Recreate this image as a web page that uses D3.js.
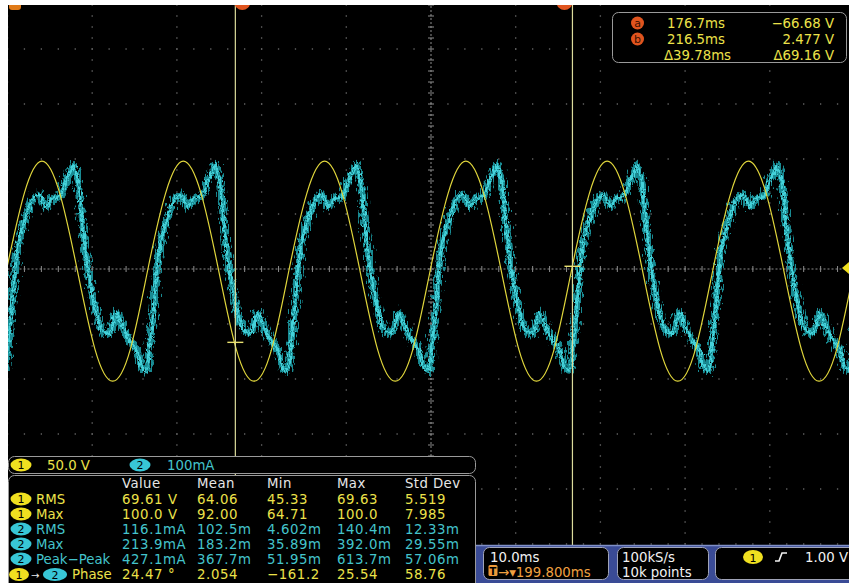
<!DOCTYPE html>
<html><head><meta charset="utf-8">
<script src="https://cdn.jsdelivr.net/npm/d3@7"></script>
<style>
html,body{margin:0;padding:0;background:#fff;overflow:hidden;}
svg{display:block;}
text{font-family:"DejaVu Sans",Verdana,sans-serif;}
</style></head><body>
<svg id="c" width="849" height="583"></svg>
<script>
// ---------------- DATA ----------------
// time axis (ms): 10 ms/div, screen centre at 199.8 ms
const timeDivisions = [149.8,159.8,169.8,179.8,189.8,199.8,209.8,219.8,229.8,239.8,249.8];
// Ch1 voltage grid (50 V/div)
const voltDivisions = [-250,-200,-150,-100,-50,0,50,100,150,200,250];

// Ch1 (yellow) samples: time (ms) / volts
const ch1Times = [147.62,149.70,151.79,153.87,155.96,158.04,160.13,162.21,164.30,166.38,168.47,170.55,172.64,174.72,176.81,178.89,180.98,183.06,185.15,187.23,189.32,191.40,193.49,195.57,197.66,199.74,201.83,203.91,206.00,208.08,210.17,212.25,214.34,216.42,218.51,220.59,222.68,224.76,226.85,228.93,231.02,233.10,235.19,237.27,239.36,241.44,243.53,245.61,247.70,249.78,251.87];
const ch1Volts = [-73,0,69,98,69,-1,-73,-102,-73,0,69,98,69,-1,-73,-102,-73,0,69,98,69,-1,-73,-102,-73,0,69,98,69,-1,-73,-102,-73,0,69,98,69,-1,-73,-102,-73,0,69,98,69,-1,-73,-102,-73,0,69];

// Ch2 (cyan) current: shape of one cycle (offset ms from rising zero / mA)
const ch2CycleOffsets = [0,0.47,1.30,2.01,2.83,3.66,4.37,5.19,6.02,6.61,6.85,7.44,7.91,8.38,8.56,9.56,10.27,11.10,11.92,12.63,13.46,14.29,14.88,15.47,15.82,16.18,16.65];
const ch2CycleMilliamps = [0,53,95,125,135,113,129,131,162,180,189,156,84,22,0,-80,-111,-116,-80,-105,-129,-147,-178,-184,-142,-93,-7];
const ch2CycleLength = 16.7;
// rising zero crossings of Ch2 (ms)
const ch2CycleStarts = [134.0,150.69,167.45,184.10,200.74,217.39,233.80,250.48];

// cursors
const cursorTimes = [176.7, 216.5];
const cursorVolts = [-66.68, 2.477];
const cursorNames = ["a","b"];
const cursorLeftText = ["176.7ms","216.5ms","\u039439.78ms"];
const cursorRightText = ["\u221266.68 V","2.477 V","\u039469.16 V"];
const triggerLevel = 1.0;

// measurement table
const measHeaders = ["Value","Mean","Min","Max","Std Dev"];
const rowSources = ["1","1","2","2","2","1>2"];
const rowLabels = ["RMS","Max","RMS","Max","Peak\u2212Peak","Phase"];
const valueCol = ["69.61 V","100.0 V","116.1mA","213.9mA","427.1mA","24.47 \u00b0"];
const meanCol = ["64.06","92.00","102.5m","183.2m","367.7m","2.054"];
const minCol = ["45.33","64.71","4.602m","35.89m","51.95m","\u2212161.2"];
const maxCol = ["69.63","100.0","140.4m","392.0m","613.7m","25.54"];
const stdCol = ["5.519","7.985","12.33m","29.55m","57.06m","58.76"];
const scaleLabels = ["50.0 V","100mA"];

// ---------------- DRAW ----------------
const YTXT = "#ece24a", CTXT = "#44c4cc";
const svg = d3.select("#c");
const defs = svg.append("defs");
defs.append("clipPath").attr("id","plotClip").append("rect")
  .attr("x",8).attr("y",5).attr("width",841).attr("height",541);

function noiseFilter(id, freq, scale, seed){
  const f = defs.append("filter").attr("id",id)
    .attr("x","-3%").attr("y","-20%").attr("width","106%").attr("height","140%");
  f.append("feTurbulence").attr("type","fractalNoise").attr("baseFrequency",freq)
    .attr("numOctaves",2).attr("seed",seed).attr("result","n");
  f.append("feDisplacementMap").attr("in","SourceGraphic").attr("in2","n")
    .attr("scale",scale).attr("xChannelSelector","R").attr("yChannelSelector","G");
}
noiseFilter("noiseA","0.6 0.15",15,3);
noiseFilter("noiseB","0.7 0.25",8,11);

svg.append("rect").attr("width",849).attr("height",583).attr("fill","#fff");
svg.append("rect").attr("x",8).attr("y",5).attr("width",841).attr("height",578).attr("fill","#000");

const x = d3.scaleLinear().domain([timeDivisions[0], timeDivisions[10]]).range([7.5, 854.5]);
const y1 = d3.scaleLinear().domain([-250,250]).range([544,-6]);
const y2 = d3.scaleLinear().domain([-500,500]).range([544,-6]);

const plot = svg.append("g").attr("clip-path","url(#plotClip)");
const grid = plot.append("g");
const minorX = d3.range(0,51).map(i => timeDivisions[0] + i*2);
const minorV = d3.range(0,51).map(i => -250 + i*10);

// dotted graticule
timeDivisions.forEach((t,i) => {
  if (i===5) return;
  grid.append("line").attr("x1",x(t)).attr("x2",x(t)).attr("y1",y1(250)).attr("y2",y1(-250))
    .attr("stroke","#626262").attr("stroke-width",1.3).attr("stroke-dasharray","1.3 9.7").attr("stroke-dashoffset",0.65);
});
voltDivisions.forEach((v,i) => {
  if (i===5) return;
  grid.append("line").attr("y1",y1(v)).attr("y2",y1(v)).attr("x1",x(timeDivisions[0])).attr("x2",x(timeDivisions[10]))
    .attr("stroke","#626262").attr("stroke-width",1.3).attr("stroke-dasharray","1.3 15.64").attr("stroke-dashoffset",0.65);
});
// centre lines with ticks
grid.append("line").attr("x1",x(timeDivisions[0])).attr("x2",x(timeDivisions[10])).attr("y1",y1(0)).attr("y2",y1(0))
  .attr("stroke","#8c8c8c").attr("stroke-width",1).attr("stroke-dasharray","2 2");
grid.append("line").attr("y1",y1(250)).attr("y2",y1(-250)).attr("x1",x(timeDivisions[5])).attr("x2",x(timeDivisions[5]))
  .attr("stroke","#8c8c8c").attr("stroke-width",1).attr("stroke-dasharray","2 2");
grid.selectAll(".tx").data(minorX).enter().append("line")
  .attr("x1",d=>x(d)).attr("x2",d=>x(d)).attr("y1",y1(0)-3).attr("y2",y1(0)+3)
  .attr("stroke","#8c8c8c").attr("stroke-width",1);
grid.selectAll(".ty").data(minorV).enter().append("line")
  .attr("y1",d=>y1(d)).attr("y2",d=>y1(d)).attr("x1",x(timeDivisions[5])-3).attr("x2",x(timeDivisions[5])+3)
  .attr("stroke","#8c8c8c").attr("stroke-width",1);

// Ch2 points from the read cycle shape placed at each read zero crossing
const ch2Points = [];
for (let i=0;i<ch2CycleStarts.length-1;i++){
  const s = ch2CycleStarts[i], k = (ch2CycleStarts[i+1]-s)/ch2CycleLength;
  ch2CycleOffsets.forEach((o,j) => ch2Points.push([s+o*k, ch2CycleMilliamps[j]]));
}
ch2Points.push([ch2CycleStarts[ch2CycleStarts.length-1], 0]);

const line2 = d3.line().x(d=>x(d[0])).y(d=>y2(d[1])).curve(d3.curveCatmullRom.alpha(0.5));
plot.append("path").attr("d",line2(ch2Points)).attr("fill","none")
  .attr("stroke","#1c9aa2").attr("stroke-width",6.5).attr("opacity",0.9).attr("filter","url(#noiseA)");
plot.append("path").attr("d",line2(ch2Points)).attr("fill","none")
  .attr("stroke","#44d2da").attr("stroke-width",2.6).attr("filter","url(#noiseB)");

const ch1Points = ch1Times.map((t,i)=>[t,ch1Volts[i]]);
const line1 = d3.line().x(d=>x(d[0])).y(d=>y1(d[1])).curve(d3.curveNatural);
plot.append("path").attr("d",line1(ch1Points)).attr("fill","none")
  .attr("stroke","#e0d63c").attr("stroke-width",1.2);

// cursors
cursorTimes.forEach((t,i) => {
  plot.append("line").attr("x1",x(t)).attr("x2",x(t)).attr("y1",5).attr("y2",546)
    .attr("stroke","#dcdc9c").attr("stroke-width",1.2);
  plot.append("line").attr("x1",x(t)-8).attr("x2",x(t)+8).attr("y1",y1(cursorVolts[i])).attr("y2",y1(cursorVolts[i]))
    .attr("stroke","#e8e070").attr("stroke-width",1.4);
  const cx = i===0 ? x(t)+7 : x(t)-8;
  plot.append("circle").attr("cx",cx).attr("cy",2).attr("r",8).attr("fill","#e0541e");
});
// trigger position marker and trigger level marker
plot.append("rect").attr("x",9).attr("y",-4).attr("width",12).attr("height",14).attr("rx",3).attr("fill","#e07a18");
const tl = y1(triggerLevel);
plot.append("path").attr("d",`M842,${tl} L849,${tl-6} L856,${tl} L849,${tl+6}Z`).attr("fill","#f0e020");

// ------------ cursor readout box -------------
const cb = svg.append("g");
cb.append("rect").attr("x",612.5).attr("y",12.5).attr("width",234).attr("height",50).attr("rx",6)
  .attr("fill","#000").attr("stroke","#9a9a9a").attr("stroke-width",1);
const cbBase = [28,44,59.5];
cursorNames.forEach((n,i)=>{
  cb.append("circle").attr("cx",637.5).attr("cy",cbBase[i]-5).attr("r",6.5).attr("fill","#e0541e");
  cb.append("text").attr("x",637.5).attr("y",cbBase[i]-1).attr("text-anchor","middle")
    .attr("font-size",11).attr("fill","#3a1000").text(n);
});
cursorLeftText.forEach((s,i)=>{
  cb.append("text").attr("x",i===2?664:667).attr("y",cbBase[i]).attr("font-size",13.3).attr("fill",YTXT).text(s);
});
cursorRightText.forEach((s,i)=>{
  cb.append("text").attr("x",834).attr("y",cbBase[i]).attr("text-anchor","end").attr("font-size",13.3).attr("fill",YTXT).text(s);
});

// ------------ bottom bar -------------
const bb = svg.append("g");
bb.append("rect").attr("x",474).attr("y",545).attr("width",375).attr("height",38).attr("fill","#3a4b96");
bb.append("line").attr("x1",474).attr("x2",849).attr("y1",545.5).attr("y2",545.5).attr("stroke","#8090c8").attr("stroke-width",1.5);
[[483,125],[617,91],[715,140]].forEach(b=>{
  bb.append("rect").attr("x",b[0]+0.5).attr("y",547.5).attr("width",b[1]).attr("height",32).attr("rx",6)
    .attr("fill","#000").attr("stroke","#a0a4b8");
});
bb.append("text").attr("x",490).attr("y",562).attr("font-size",13.3).attr("fill","#f2f2f2").text("10.0ms");
bb.append("rect").attr("x",488.5).attr("y",565).attr("width",9).attr("height",11).attr("rx",1.5).attr("fill","#ee9a3a");
bb.append("text").attr("x",493).attr("y",575).attr("text-anchor","middle").attr("font-size",10).attr("font-weight","bold").attr("fill","#000").text("T");
bb.append("text").attr("x",498).attr("y",577).attr("font-size",13.3).attr("fill","#f0a040").text("\u2192\u25be199.800ms");
bb.append("text").attr("x",622).attr("y",562).attr("font-size",13.3).attr("fill","#f2f2f2").text("100kS/s");
bb.append("text").attr("x",622).attr("y",577).attr("font-size",13.3).attr("fill","#f2f2f2").text("10k points");
bb.append("ellipse").attr("cx",753).attr("cy",557).attr("rx",10).attr("ry",7).attr("fill","#f0e020");
bb.append("text").attr("x",753).attr("y",561.5).attr("text-anchor","middle").attr("font-size",11).attr("fill","#000").text("1");
bb.append("path").attr("d","M775,561 L779,561 L782,553 L787,553").attr("fill","none").attr("stroke","#f2f2f2").attr("stroke-width",1.6);
bb.append("text").attr("x",848).attr("y",562).attr("text-anchor","end").attr("font-size",13.3).attr("fill","#f2f2f2").text("1.00 V");

// ------------ measurement table -------------
const tb = svg.append("g");
tb.append("rect").attr("x",8.5).attr("y",456.5).attr("width",467).attr("height",17).attr("rx",6)
  .attr("fill","#000").attr("stroke","#9a9a9a");
tb.append("rect").attr("x",8.5).attr("y",475.5).attr("width",467).attr("height",120).attr("rx",6)
  .attr("fill","#000").attr("stroke","#9a9a9a");
function badge(cx, cy, n, rx){
  tb.append("ellipse").attr("cx",cx).attr("cy",cy).attr("rx",rx||10.5).attr("ry",6.5)
    .attr("fill", n==="1" ? "#f0e020" : "#38c6d6");
  tb.append("text").attr("x",cx).attr("y",cy+4).attr("text-anchor","middle").attr("font-size",11)
    .attr("fill","#000").text(n);
}
badge(21,465,"1"); badge(140,465,"2");
tb.append("text").attr("x",47).attr("y",470).attr("font-size",13.3).attr("fill",YTXT).text(scaleLabels[0]);
tb.append("text").attr("x",167).attr("y",470).attr("font-size",13.3).attr("fill",CTXT).text(scaleLabels[1]);

const colX = [122,197,267,337,405];
measHeaders.forEach((h,i)=>{
  tb.append("text").attr("x",colX[i]).attr("y",488).attr("font-size",13.3).attr("letter-spacing",0.4)
    .attr("fill","#e6e6e6").text(h);
});
const rowBase = [503.5,518.5,533.5,548.5,563.5,579];
const cols = [valueCol, meanCol, minCol, maxCol, stdCol];
rowLabels.forEach((lab,r)=>{
  const src = rowSources[r];
  const color = (src==="2") ? CTXT : YTXT;
  const cy = rowBase[r]-4.5;
  if (src==="1>2"){
    badge(19,cy,"1",10);
    tb.append("text").attr("x",31).attr("y",rowBase[r]-0.5).attr("font-size",10).attr("fill","#eee").text("\u2192");
    badge(55,cy,"2",12);
    tb.append("text").attr("x",72).attr("y",rowBase[r]).attr("font-size",13.3).attr("fill",color).text(lab);
  } else {
    badge(21,cy,src);
    tb.append("text").attr("x",36).attr("y",rowBase[r]).attr("font-size",13.3).attr("fill",color).text(lab);
  }
  cols.forEach((c,i)=>{
    tb.append("text").attr("x",colX[i]).attr("y",rowBase[r]).attr("font-size",13.3).attr("letter-spacing",0.6)
      .attr("fill",color).text(c[r]);
  });
});

// white margins (photo frame)
svg.append("rect").attr("x",0).attr("y",0).attr("width",849).attr("height",5).attr("fill","#fff");
svg.append("rect").attr("x",0).attr("y",0).attr("width",8).attr("height",583).attr("fill","#fff");
</script>
</body></html>
